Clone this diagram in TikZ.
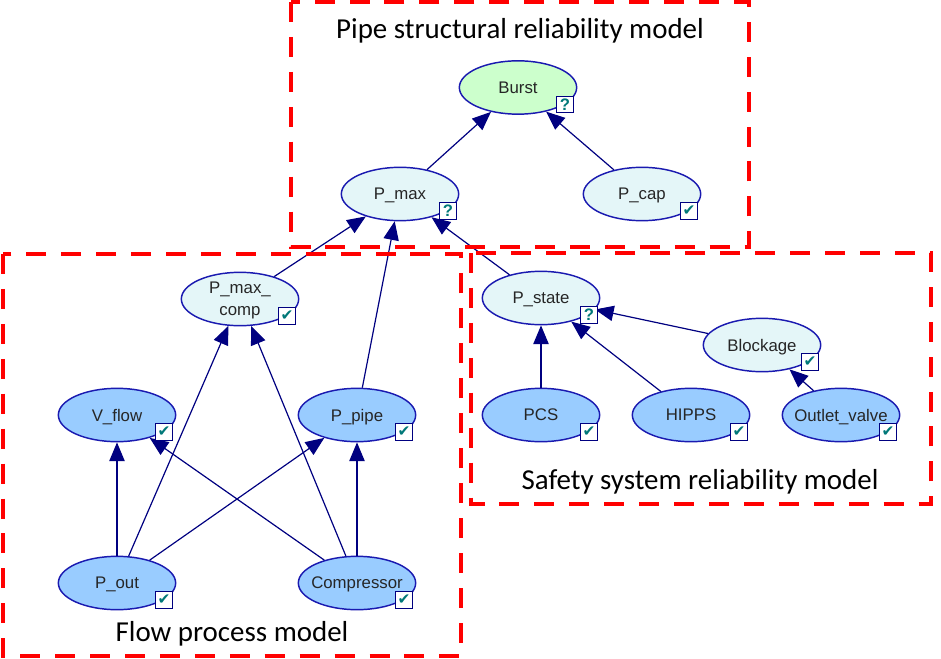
\documentclass[tikz,border=0pt]{standalone}
\usepackage{fontspec}
\setmainfont{Liberation Sans}
\newfontfamily\calib{Carlito}
\newfontfamily\dejav{DejaVu Sans}
\usetikzlibrary{shapes.geometric,arrows.meta}
\definecolor{edgeblue}{HTML}{000080}
\definecolor{rimblue}{HTML}{1A1AB0}
\definecolor{dblue}{HTML}{99CCFF}
\definecolor{lblue}{HTML}{E4F6F8}
\definecolor{lgreen}{HTML}{CCFFCC}
\definecolor{markteal}{HTML}{007878}
\definecolor{framered}{HTML}{FF0000}
\tikzset{
  bn/.style={ellipse,draw=rimblue,line width=1.1pt,minimum width=88pt,minimum height=40pt,inner xsep=-9pt,inner ysep=0pt,text depth=0pt,font=\fontsize{12.6}{16.5}\selectfont,text=black!85,align=center},
  obs/.style={bn,fill=dblue},
  calc/.style={bn,fill=lblue},
  target/.style={bn,fill=lgreen},
  flag/.style={rectangle,draw=edgeblue,fill=white,line width=0.9pt,minimum size=12.4pt,inner sep=0pt,text=markteal,font=\fontsize{12.5}{12.5}\selectfont\bfseries},
  okflag/.style={flag,font=\dejav\fontsize{11.5}{11.5}\selectfont},
  link/.style={draw=edgeblue,line width=0.9pt,-{Triangle[length=14pt,width=11.5pt]}},
  zone/.style={draw=framered,line width=3.2pt,dash pattern=on 15pt off 11.2pt},
  caption/.style={font=\calib\fontsize{21.7}{23}\selectfont,text=black,inner sep=0pt}
}
\begin{document}
\begin{tikzpicture}[x=0.75pt,y=-0.75pt]
\useasboundingbox (0,0) rectangle (941,659);
\node[target] (burst) at (518,87.5) {Burst};
\node[calc] (pcap) at (642,194) {P\_cap};
\node[calc] (pmax) at (400,194) {P\_max};
\node[calc] (pcomp) at (240,299) {P\_max\_\\comp};
\node[calc] (pstate) at (541,298) {P\_state};
\node[calc] (block) at (762,345) {Blockage};
\node[obs] (pcs) at (541,415) {PCS};
\node[obs] (hipps) at (691,415) {HIPPS};
\node[obs] (outlet) at (841,415) {Outlet\_valve};
\node[obs] (vflow) at (117,415) {V\_flow};
\node[obs] (ppipe) at (357,415) {P\_pipe};
\node[obs] (pout) at (117,583) {P\_out};
\node[obs] (comp) at (357,583) {Compressor};
\path[link] (pmax) -- (burst);
\path[link] (pcap) -- (burst);
\path[link] (pcomp) -- (pmax);
\path[link] (ppipe) -- (pmax);
\path[link] (pstate) -- (pmax);
\path[link] (pout) -- (pcomp);
\path[link] (comp) -- (pcomp);
\path[link] (pout) -- (vflow);
\path[link] (comp) -- (vflow);
\path[link] (pout) -- (ppipe);
\path[link] (comp) -- (ppipe);
\path[link] (pcs) -- (pstate);
\path[link] (hipps) -- (pstate);
\path[link] (block) -- (pstate);
\path[link] (outlet) -- (block);
\node[flag] (f1) at (565,104.5) {?};
\node[okflag] (f2) at (689,211) {✔};
\node[flag] (f3) at (448,211) {?};
\node[okflag] (f4) at (287,316) {✔};
\node[flag] (f5) at (589,315) {?};
\node[okflag] (f6) at (810,362) {✔};
\node[okflag] (f7) at (589,432) {✔};
\node[okflag] (f8) at (739,432) {✔};
\node[okflag] (f9) at (888,432) {✔};
\node[okflag] (f10) at (164,432) {✔};
\node[okflag] (f11) at (404,432) {✔};
\node[okflag] (f12) at (164,600) {✔};
\node[okflag] (f13) at (404,600) {✔};
\draw[zone] (291,2) rectangle (749,247);
\draw[zone] (3,254) rectangle (461,656);
\draw[zone] (471,253) rectangle (931,504);
\node[caption] (c1) at (520,31) {Pipe structural reliability model};
\node[caption] (c2) at (700,482) {Safety system reliability model};
\node[caption] (c3) at (232,634) {Flow process model};
\end{tikzpicture}
\end{document}
